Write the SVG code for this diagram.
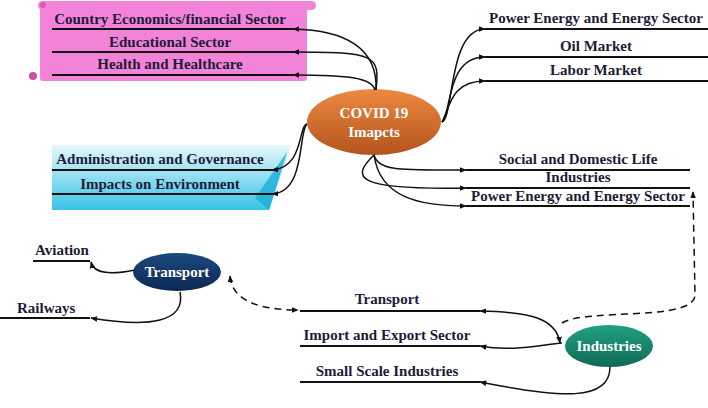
<svg xmlns="http://www.w3.org/2000/svg" width="708" height="408" viewBox="0 0 708 408">
<defs>
<marker id="ah" viewBox="0 0 10 10" refX="9" refY="5" markerWidth="7" markerHeight="7" markerUnits="userSpaceOnUse" orient="auto-start-reverse"><path d="M0,1 L10,5 L0,9 Z" fill="#111"/></marker>
<linearGradient id="gOrange" x1="0" y1="0" x2="0" y2="1"><stop offset="0" stop-color="#ec8a40"/><stop offset="1" stop-color="#b4531d"/></linearGradient>
<linearGradient id="gNavy" x1="0" y1="0" x2="0" y2="1"><stop offset="0" stop-color="#1c4a80"/><stop offset="1" stop-color="#0c2752"/></linearGradient>
<linearGradient id="gTeal" x1="0" y1="0" x2="0" y2="1"><stop offset="0" stop-color="#22a083"/><stop offset="1" stop-color="#0f6a54"/></linearGradient>
<linearGradient id="gCyan" x1="0" y1="0" x2="0" y2="1"><stop offset="0" stop-color="#e6f8fc"/><stop offset="1" stop-color="#38c3e6"/></linearGradient>
</defs>
<style>
.t{font-size:15px;fill:#1c1c38;text-anchor:middle}
.w{font-size:15px;fill:#ffffff;text-anchor:middle}
.ul{stroke:#111;stroke-width:2.2;fill:none}
.c{stroke:#111;stroke-width:1.5;fill:none;marker-end:url(#ah)}
.d{stroke:#111;stroke-width:1.5;fill:none;stroke-dasharray:7,5}
</style>
<g font-family="Liberation Serif, Times New Roman, serif" font-weight="bold">
<g id="pink-banner">
<rect x="40" y="8" width="267" height="73" rx="3" fill="#f383d9"/>
<rect x="38" y="1" width="278" height="9" rx="4.5" fill="#f383d9"/>
<circle cx="43" cy="5" r="3" fill="#d85bb8"/>
<circle cx="33" cy="76" r="4" fill="#d04c9f"/>
<text class="t" x="170" y="24">Country Economics/financial Sector</text>
<line class="ul" x1="52" y1="29" x2="294" y2="29"/>
<text class="t" x="170" y="47">Educational Sector</text>
<line class="ul" x1="52" y1="52" x2="294" y2="52"/>
<text class="t" x="170" y="69">Health and Healthcare</text>
<line class="ul" x1="52" y1="75" x2="294" y2="75"/>
</g>
<g id="cyan-banner">
<polygon points="52,145 291,145 269,210 52,210" fill="url(#gCyan)"/>
<polygon points="287,152 255,198 269,210" fill="#1aaed6" opacity="0.8"/>
<text class="t" x="160" y="164">Administration and Governance</text>
<line class="ul" x1="52" y1="170" x2="274" y2="170"/>
<text class="t" x="160" y="189">Impacts on Environment</text>
<line class="ul" x1="52" y1="194" x2="274" y2="194"/>
</g>
<g id="covid">
<ellipse cx="374" cy="122" rx="67" ry="33" fill="url(#gOrange)"/>
<text class="w" x="374" y="118">COVID 19</text>
<text class="w" x="374" y="137">Imapcts</text>
</g>
<g id="right-top">
<text class="t" x="596" y="23">Power Energy and Energy Sector</text>
<line class="ul" x1="485" y1="29" x2="708" y2="29"/>
<text class="t" x="596" y="51">Oil Market</text>
<line class="ul" x1="485" y1="57" x2="708" y2="57"/>
<text class="t" x="596" y="75">Labor Market</text>
<line class="ul" x1="485" y1="81" x2="708" y2="81"/>
</g>
<g id="right-mid">
<text class="t" x="578" y="164">Social and Domestic Life</text>
<line class="ul" x1="466" y1="170" x2="690" y2="170"/>
<text class="t" x="578" y="182">Industries</text>
<line class="ul" x1="466" y1="188" x2="690" y2="188"/>
<text class="t" x="578" y="201">Power Energy and Energy Sector</text>
<line class="ul" x1="466" y1="206" x2="690" y2="206"/>
</g>
<g id="transport">
<ellipse cx="177" cy="272" rx="44" ry="19" fill="url(#gNavy)"/>
<text class="w" x="177" y="277">Transport</text>
<text class="t" x="35" y="255" style="text-anchor:start">Aviation</text>
<line class="ul" x1="33" y1="261" x2="90" y2="261"/>
<text class="t" x="17" y="313" style="text-anchor:start">Railways</text>
<line class="ul" x1="0" y1="318" x2="90" y2="318"/>
</g>
<g id="industries">
<ellipse cx="609" cy="346" rx="44" ry="21" fill="url(#gTeal)"/>
<text class="w" x="609" y="351">Industries</text>
<text class="t" x="387" y="304">Transport</text>
<line class="ul" x1="300" y1="311" x2="480" y2="311"/>
<text class="t" x="387" y="340">Import and Export Sector</text>
<line class="ul" x1="300" y1="346" x2="480" y2="346"/>
<text class="t" x="387" y="376">Small Scale Industries</text>
<line class="ul" x1="300" y1="382" x2="480" y2="382"/>
</g>
<g id="connectors">
<path class="c" d="M376,90 C378,48 345,30 293,29"/>
<path class="c" d="M376,90 C380,55 376,52 293,52"/>
<path class="c" d="M375,90 C372,78 350,75 293,75"/>
<path class="c" d="M442,122 C454,118 448,29 485,29"/>
<path class="c" d="M442,122 C452,112 446,57 485,57"/>
<path class="c" d="M442,122 C450,108 450,81 485,81"/>
<path class="c" d="M374,155 C378,172 405,170 466,170"/>
<path class="c" d="M374,155 C350,178 355,190 466,188"/>
<path class="c" d="M374,155 C380,198 420,206 466,206"/>
<path class="c" d="M307,124 C298,126 304,168 272,170"/>
<path class="c" d="M307,124 C298,132 306,192 272,194"/>
<path class="c" d="M135,270 C110,275 94,274 91,262"/>
<path class="c" d="M180,292 C186,322 150,328 91,318"/>
<path class="d" d="M230,276 C232,302 262,310 298,310" style="marker-start:url(#ah);marker-end:url(#ah)"/>
<path class="c" d="M560,343 C556,318 530,312 480,311" style="marker-start:url(#ah)"/>
<path class="c" d="M562,343 C540,345 510,352 480,346"/>
<path class="c" d="M610,367 C610,402 560,398 480,382"/>
<path class="d" d="M562,323 C585,308 695,322 695,295 L693,192" style="marker-end:url(#ah)"/>
</g>
</g>
</svg>
